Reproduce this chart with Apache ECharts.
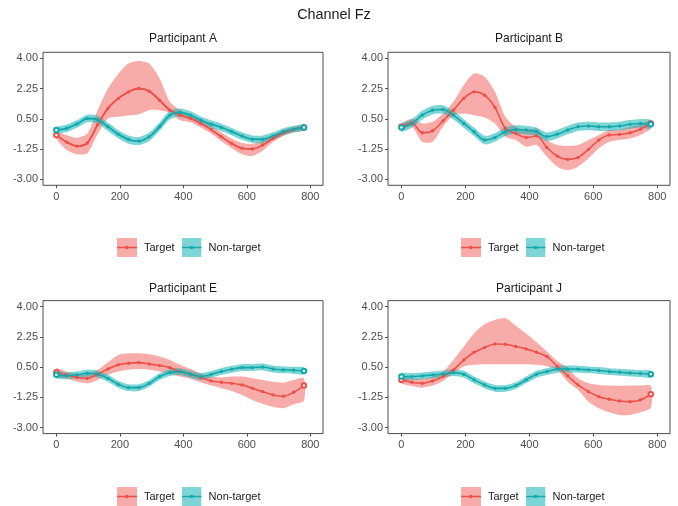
<!DOCTYPE html>
<html>
<head>
<meta charset="utf-8">
<script src="https://cdn.jsdelivr.net/npm/echarts@6/dist/echarts.min.js"></script>
<style>
  html, body { margin: 0; padding: 0; background: #ffffff; }
  #chart { width: 678px; height: 506px; }
</style>
</head>
<body>
<div id="chart"></div>
<script>
// Sample times (ms) shared by every participant
const TIME_MS = [0, 32.5, 65, 97.5, 130, 162.5, 195, 227.5, 260, 292.5, 325, 357.5, 390,
                 422.5, 455, 487.5, 520, 552.5, 585, 617.5, 650, 682.5, 715, 747.5, 780];

const X_TICKS = [0, 200, 400, 600, 800];
const Y_TICKS = [-3, -1.25, 0.5, 2.25, 4];
const CONDITIONS = ['Target', 'Non-target'];
const PANEL_TITLES = ['Participant A', 'Participant B', 'Participant E', 'Participant J'];
const CHANNEL_TITLE = 'Channel Fz';

// Participant A
const targetA     = [-0.44,-0.85,-1.08,-0.90,0.15,1.10,1.67,2.06,2.25,2.10,1.58,1.00,0.71,0.52,0.23,-0.12,-0.54,-0.93,-1.21,-1.25,-1.02,-0.64,-0.31,-0.12,0.00];
const targetA_lo  = [-0.65,-1.30,-1.55,-1.50,-0.40,0.52,0.62,0.69,0.77,1.00,1.00,0.85,0.42,0.30,0.00,-0.35,-0.80,-1.20,-1.55,-1.65,-1.35,-0.85,-0.50,-0.30,-0.15];
const targetA_hi  = [-0.25,-0.45,-0.60,-0.35,1.00,2.25,3.10,3.70,3.85,3.70,2.85,1.48,1.00,0.72,0.45,0.10,-0.30,-0.65,-0.90,-0.95,-0.75,-0.45,-0.15,0.05,0.14];
const nontargetA    = [-0.15,-0.05,0.20,0.52,0.45,0.04,-0.39,-0.70,-0.79,-0.54,0.04,0.71,0.87,0.71,0.42,0.19,0.00,-0.25,-0.50,-0.68,-0.68,-0.50,-0.25,-0.10,0.00];
const nontargetA_lo = [-0.32,-0.26,-0.02,0.30,0.22,-0.20,-0.62,-0.94,-1.02,-0.78,-0.20,0.46,0.64,0.48,0.20,-0.03,-0.22,-0.47,-0.72,-0.90,-0.90,-0.72,-0.46,-0.30,-0.18];
const nontargetA_hi = [0.02,0.16,0.42,0.74,0.68,0.28,-0.16,-0.46,-0.56,-0.30,0.28,0.96,1.10,0.94,0.64,0.41,0.22,-0.03,-0.28,-0.46,-0.46,-0.28,-0.04,0.10,0.18];

// Participant B
const targetB     = [0.04,0.27,-0.31,-0.19,0.38,1.00,1.68,2.06,1.87,1.16,-0.06,-0.35,-0.58,-0.50,-1.16,-1.66,-1.85,-1.74,-1.27,-0.73,-0.44,-0.41,-0.31,-0.10,0.23];
const targetB_lo  = [-0.15,0.04,-0.83,-0.83,0.04,0.71,0.81,0.71,0.58,0.23,-0.54,-0.73,-1.12,-1.02,-1.70,-2.27,-2.47,-2.27,-1.79,-1.21,-0.83,-0.73,-0.64,-0.44,-0.06];
const targetB_hi  = [0.18,0.52,0.23,0.33,0.81,1.48,2.45,3.12,2.93,2.06,0.62,0.04,-0.15,-0.06,-0.73,-1.02,-1.08,-1.02,-0.73,-0.44,-0.15,-0.12,0.04,0.18,0.42];
const nontargetB    = [0.00,0.23,0.71,1.00,1.04,0.71,0.23,-0.25,-0.73,-0.58,-0.25,-0.12,-0.15,-0.25,-0.54,-0.39,-0.15,0.04,0.08,0.04,0.04,0.08,0.18,0.23,0.19];
const nontargetB_lo = [-0.24,-0.02,0.46,0.75,0.79,0.46,-0.02,-0.50,-0.98,-0.83,-0.50,-0.37,-0.40,-0.50,-0.79,-0.64,-0.40,-0.21,-0.17,-0.21,-0.21,-0.17,-0.07,-0.02,-0.06];
const nontargetB_hi = [0.24,0.48,0.96,1.25,1.29,0.96,0.48,0.00,-0.48,-0.33,0.00,0.13,0.10,0.00,-0.29,-0.14,0.10,0.29,0.33,0.29,0.29,0.33,0.43,0.48,0.44];

// Participant E
const targetE     = [0.20,0.05,-0.10,-0.15,0.09,0.39,0.63,0.72,0.76,0.68,0.59,0.47,0.24,0.09,-0.11,-0.30,-0.38,-0.44,-0.53,-0.72,-0.92,-1.11,-1.19,-0.96,-0.57];
const targetE_lo  = [-0.05,-0.18,-0.34,-0.44,-0.24,0.05,0.24,0.34,0.39,0.34,0.24,0.10,-0.05,-0.18,-0.38,-0.57,-0.72,-0.88,-1.11,-1.40,-1.62,-1.80,-1.88,-1.65,-1.45];
const targetE_hi  = [0.43,0.24,0.10,0.10,0.34,0.78,1.20,1.30,1.30,1.24,1.11,0.91,0.63,0.39,0.14,-0.05,-0.10,-0.05,-0.05,-0.15,-0.25,-0.35,-0.40,-0.25,-0.15];
const nontargetE    = [0.05,0.00,0.05,0.14,0.10,-0.15,-0.49,-0.69,-0.69,-0.44,-0.05,0.18,0.24,0.09,-0.05,0.08,0.25,0.38,0.47,0.47,0.51,0.39,0.34,0.32,0.28];
const nontargetE_lo = [-0.15,-0.20,-0.15,-0.06,-0.10,-0.35,-0.69,-0.89,-0.89,-0.64,-0.25,-0.02,0.04,-0.11,-0.25,-0.12,0.05,0.18,0.27,0.27,0.31,0.19,0.14,0.12,0.08];
const nontargetE_hi = [0.25,0.20,0.25,0.34,0.30,0.05,-0.29,-0.49,-0.49,-0.24,0.15,0.38,0.44,0.29,0.15,0.28,0.45,0.58,0.67,0.67,0.71,0.59,0.54,0.52,0.48];

// Participant J
const targetJ     = [-0.24,-0.38,-0.44,-0.30,-0.05,0.34,0.91,1.36,1.63,1.84,1.82,1.69,1.55,1.36,1.11,0.55,0.00,-0.53,-0.92,-1.21,-1.36,-1.46,-1.50,-1.40,-1.07];
const targetJ_lo  = [-0.44,-0.59,-0.69,-0.57,-0.30,0.14,0.53,0.63,0.67,0.67,0.67,0.67,0.67,0.63,0.55,0.35,-0.35,-0.82,-1.50,-1.88,-2.11,-2.27,-2.27,-2.11,-1.85];
const targetJ_hi  = [-0.05,-0.15,-0.18,-0.05,0.24,0.91,1.69,2.46,2.98,3.23,3.33,2.90,2.45,1.95,1.40,0.85,0.45,-0.15,-0.44,-0.53,-0.57,-0.59,-0.57,-0.57,-0.59];
const nontargetJ    = [-0.05,-0.05,-0.01,0.05,0.10,0.18,0.09,-0.24,-0.53,-0.73,-0.73,-0.57,-0.24,0.09,0.24,0.38,0.39,0.38,0.34,0.30,0.24,0.20,0.16,0.13,0.09];
const nontargetJ_lo = [-0.25,-0.25,-0.21,-0.15,-0.10,-0.02,-0.11,-0.44,-0.73,-0.93,-0.93,-0.77,-0.44,-0.11,0.04,0.18,0.19,0.18,0.14,0.10,0.04,0.00,-0.04,-0.07,-0.11];
const nontargetJ_hi = [0.15,0.15,0.19,0.25,0.30,0.38,0.29,-0.04,-0.33,-0.53,-0.53,-0.37,-0.04,0.29,0.44,0.58,0.59,0.58,0.54,0.50,0.44,0.40,0.36,0.33,0.29];

const PANEL_DATA = [
  { target: [targetA, targetA_lo, targetA_hi], nontarget: [nontargetA, nontargetA_lo, nontargetA_hi] },
  { target: [targetB, targetB_lo, targetB_hi], nontarget: [nontargetB, nontargetB_lo, nontargetB_hi] },
  { target: [targetE, targetE_lo, targetE_hi], nontarget: [nontargetE, nontargetE_lo, nontargetE_hi] },
  { target: [targetJ, targetJ_lo, targetJ_hi], nontarget: [nontargetJ, nontargetJ_lo, nontargetJ_hi] }
];

// ---- styling and layout ----
const FONT = "'Liberation Sans', Arial, Helvetica, sans-serif";
const LINE_COLORS = { 'Target': '#EE5049', 'Non-target': '#12A9AC' };
const BAND_COLORS = { 'Target': 'rgba(242,104,98,0.55)', 'Non-target': 'rgba(18,178,181,0.55)' };
const LINE_WIDTHS = [1.9, 1.6, 1.6, 1.6];

const GRIDS = [
  { left: 43,  top: 52.3,  width: 280, height: 133 },
  { left: 388, top: 52.3,  width: 282, height: 133 },
  { left: 43,  top: 300.6, width: 280, height: 133 },
  { left: 388, top: 300.6, width: 282, height: 133 }
];
const LEGEND_POS = [
  { left: 117, top: 238 },
  { left: 461, top: 238 },
  { left: 117, top: 487 },
  { left: 461, top: 487 }
];

// Legend key: filled ribbon swatch with the line and point drawn across it
function keyIcon(cond) {
  const svg =
    "<svg xmlns='http://www.w3.org/2000/svg' width='20' height='19'>" +
    "<rect width='20' height='19' fill='" + BAND_COLORS[cond] + "'/>" +
    "<line x1='0' y1='9.5' x2='20' y2='9.5' stroke='" + LINE_COLORS[cond] + "' stroke-width='1.5'/>" +
    "<circle cx='10' cy='9.5' r='1.8' fill='" + LINE_COLORS[cond] + "'/></svg>";
  return 'image://data:image/svg+xml;charset=utf-8,' + encodeURIComponent(svg);
}

const grid = GRIDS.map(g => Object.assign({
  show: true,
  borderColor: '#4d4d4d',
  borderWidth: 1,
  backgroundColor: 'transparent',
  containLabel: false,
  outerBoundsMode: 'none'
}, g));

const xAxis = GRIDS.map((g, i) => ({
  type: 'value',
  gridIndex: i,
  position: 'bottom',
  min: -42,
  max: 840,
  axisLine: { show: false, onZero: false },
  splitLine: { show: false },
  axisTick: { show: true, inside: false, length: 3, customValues: X_TICKS, lineStyle: { color: '#4d4d4d' } },
  axisLabel: { customValues: X_TICKS, margin: 6, color: '#4d4d4d', fontSize: 11, fontFamily: FONT }
}));

const yAxis = GRIDS.map((g, i) => ({
  type: 'value',
  gridIndex: i,
  position: 'left',
  min: -3.35,
  max: 4.35,
  axisLine: { show: false, onZero: false },
  splitLine: { show: false },
  axisTick: { show: true, inside: false, length: 3, customValues: Y_TICKS, lineStyle: { color: '#4d4d4d' } },
  axisLabel: {
    customValues: Y_TICKS, margin: 5, color: '#4d4d4d', fontSize: 11, fontFamily: FONT,
    formatter: v => Number(v).toFixed(2)
  }
}));

// Confidence ribbon: one polygon along the upper bound and back along the lower bound
function ribbon(panel, cond, lo, hi) {
  return {
    type: 'custom',
    name: cond + ' ribbon ' + panel,
    xAxisIndex: panel, yAxisIndex: panel,
    silent: true,
    data: TIME_MS.map((t, i) => [t, lo[i], hi[i]]),
    encode: { x: 0, y: [1, 2] },
    renderItem: function (params, api) {
      if (params.dataIndex !== 0) return { type: 'group', children: [] };
      const pts = [];
      for (let i = 0; i < TIME_MS.length; i++) pts.push(api.coord([TIME_MS[i], hi[i]]));
      for (let i = TIME_MS.length - 1; i >= 0; i--) pts.push(api.coord([TIME_MS[i], lo[i]]));
      return {
        type: 'polygon',
        shape: { points: pts, smooth: 0.25 },
        style: { fill: BAND_COLORS[cond] }
      };
    }
  };
}

function meanLine(panel, cond, mean) {
  const last = TIME_MS.length - 1;
  return {
    type: 'line', name: cond, xAxisIndex: panel, yAxisIndex: panel,
    data: TIME_MS.map((t, i) => {
      const item = { value: [t, mean[i]] };
      if (i === 0 || i === last) { item.symbol = 'emptyCircle'; item.symbolSize = 4.5; }
      return item;
    }),
    smooth: 0.3,
    symbol: 'circle', symbolSize: 3.4, showSymbol: true, showAllSymbol: true,
    lineStyle: { color: LINE_COLORS[cond], width: LINE_WIDTHS[panel] },
    itemStyle: { color: LINE_COLORS[cond], borderWidth: 1.1 },
    emphasis: { disabled: true }
  };
}

const series = [];
PANEL_DATA.forEach((d, p) => {
  series.push(ribbon(p, 'Target', d.target[1], d.target[2]));
  series.push(meanLine(p, 'Target', d.target[0]));
  series.push(ribbon(p, 'Non-target', d.nontarget[1], d.nontarget[2]));
  series.push(meanLine(p, 'Non-target', d.nontarget[0]));
});

const legend = LEGEND_POS.map(pos => ({
  left: pos.left, top: pos.top, orient: 'horizontal', padding: 0,
  itemWidth: 20, itemHeight: 19, itemGap: 7, selectedMode: false,
  data: CONDITIONS.map(c => ({ name: c, icon: keyIcon(c) })),
  textStyle: { fontSize: 11, color: '#1a1a1a', fontFamily: FONT, padding: [0, 0, 0, 2] }
}));

const TITLE_POS = [[183, 38.3], [529, 38.3], [183, 288.3], [529, 288.3]];
const graphic = [{
  type: 'text', x: 334, y: 15, silent: true,
  style: { text: CHANNEL_TITLE, align: 'center', verticalAlign: 'middle', fontSize: 14.4, fill: '#1a1a1a', fontFamily: FONT }
}].concat(PANEL_TITLES.map((t, i) => ({
  type: 'text', x: TITLE_POS[i][0], y: TITLE_POS[i][1], silent: true,
  style: { text: t, align: 'center', verticalAlign: 'middle', fontSize: 12, fill: '#1a1a1a', fontFamily: FONT }
})));

const chart = echarts.init(document.getElementById('chart'), null, { renderer: 'canvas' });
chart.setOption({
  backgroundColor: '#ffffff',
  animation: false,
  grid: grid,
  xAxis: xAxis,
  yAxis: yAxis,
  legend: legend,
  graphic: graphic,
  series: series
});
</script>
</body>
</html>
